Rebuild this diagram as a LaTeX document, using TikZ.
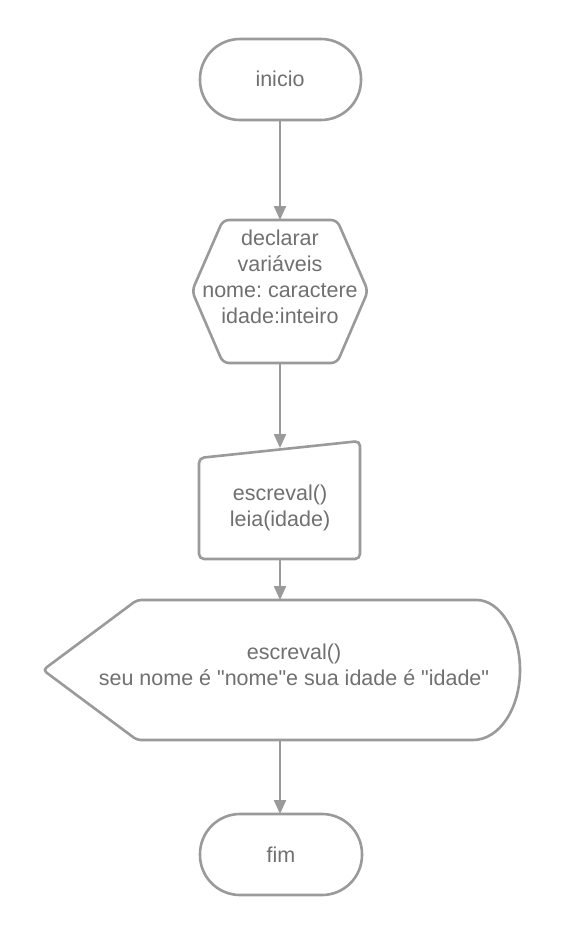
\documentclass[tikz,border=0pt]{standalone}
\usepackage{fontspec}
\setmainfont{Liberation Sans}[Ligatures=TeXOff]
\usetikzlibrary{arrows.meta}
\definecolor{linegray}{HTML}{9A9A9A}
\definecolor{textgray}{HTML}{707070}
\frenchspacing
\begin{document}
\begin{tikzpicture}[x=1pt,y=-1pt,
  shapeline/.style={draw=linegray,line width=2.6pt,fill=white,line join=round},
  label/.style={text=textgray,font=\fontsize{21.5}{26}\selectfont,align=center,inner sep=0pt},
  flow/.style={draw=linegray,line width=2.2pt,-{Triangle[length=14pt,width=12pt]}}]
\useasboundingbox (0,0) rectangle (560,935);
\fill[white] (0,0) rectangle (560,935);
% inicio
\draw[shapeline,rounded corners=40pt] (200,39) rectangle (361,120);
\node[label] (inicio) at (280,79) {inicio};
\coordinate (inicioS) at (280,120);
% hexagon
\draw[shapeline,rounded corners=6pt] (223,220) -- (337,220) -- (368,291) -- (337,363) -- (223,363) -- (192,291) -- cycle;
\node[label] (decl) at (280,277) {declarar\\variáveis\\nome: caractere\\idade:inteiro};
\coordinate (declN) at (280,220);
\coordinate (declS) at (280,363);
% manual input
\draw[shapeline,rounded corners=5pt] (199,458) -- (360,441) -- (360,559) -- (199,559) -- cycle;
\node[label] (leia) at (280,508) {escreval()\\leia(idade)};
\coordinate (leiaN) at (280,448);
\coordinate (leiaS) at (280,559);
% display
\draw[shapeline,rounded corners=4pt] (43,670) -- (137,600) -- (473,600) [sharp corners] .. controls (499,600) and (520,631) .. (520,670) .. controls (520,709) and (499,740) .. (473,740) [rounded corners=4pt] -- (137,740) -- cycle;
\node[label] (disp) at (294,665) {escreval()\\seu nome é "nome"e sua idade é "idade"};
\coordinate (dispN) at (280,600);
\coordinate (dispS) at (280,740);
% fim
\draw[shapeline,rounded corners=40pt] (200,814) rectangle (362,895);
\node[label] (fim) at (281,855) {fim};
\coordinate (fimN) at (280,814);
% connectors
\draw[flow] (inicioS) -- (declN);
\draw[flow] (declS) -- (leiaN);
\draw[flow] (leiaS) -- (dispN);
\draw[flow] (dispS) -- (fimN);
\end{tikzpicture}
\end{document}
